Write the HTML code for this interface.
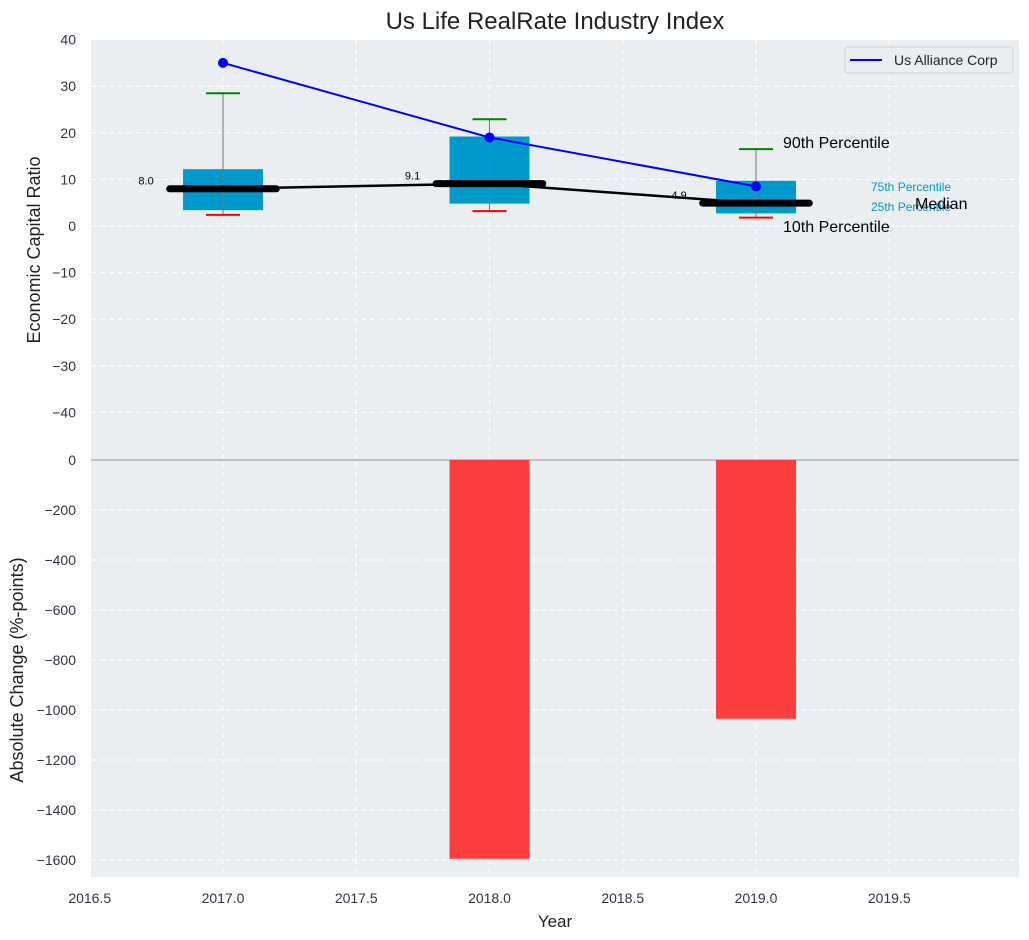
<!DOCTYPE html>
<html><head><meta charset="utf-8">
<style>
html,body{margin:0;padding:0;background:#fff;}
svg{display:block;font-family:"Liberation Sans","DejaVu Sans",sans-serif;}
</style></head>
<body>
<svg id="chart" width="1029" height="940" viewBox="0 0 1029 940" xmlns="http://www.w3.org/2000/svg">
<text x="555" y="29" font-size="24" text-anchor="middle" fill="#222">Us Life RealRate Industry Index</text>
<rect x="91" y="40" width="928" height="419" fill="#eaeef0"/>
<rect x="91" y="459" width="928" height="418" fill="#eaeef0"/>
<g id="grid"></g>
<g id="marks"></g>
<g id="axes"></g>
<text transform="translate(40,250) rotate(-90)" font-size="18" text-anchor="middle" fill="#222">Economic Capital Ratio</text>
<text transform="translate(23,670) rotate(-90)" font-size="18" text-anchor="middle" fill="#222">Absolute Change (%-points)</text>
<text x="555" y="927" font-size="17" text-anchor="middle" fill="#222">Year</text>
<g>
<rect x="845" y="47" width="168" height="26" rx="3" fill="#eaeef0" stroke="#cfd3d6"/>
<line x1="850" y1="60" x2="882" y2="60" stroke="#0000ff" stroke-width="2"/>
<text x="894" y="65" font-size="14" fill="#222">Us Alliance Corp</text>
</g>
<text x="783" y="148" font-size="16" fill="#000">90th Percentile</text>
<text x="783" y="232" font-size="16" fill="#000">10th Percentile</text>
<text x="871" y="191" font-size="12" fill="#0099cc">75th Percentile</text>
<text x="871" y="211" font-size="12" fill="#0099cc">25th Percentile</text>
<text x="915" y="209" font-size="16" fill="#000">Median</text>
</svg>
<script>
const years=[2017,2018,2019];
const p10=[2.4,3.2,1.8];
const p25=[3.4,4.8,2.7];
const p75=[12.2,19.2,9.7];
const p90=[28.5,22.9,16.5];
const median=[8.0,9.1,4.9];
const alliance=[35,19,8.5];
const change=[0,-1595,-1035];
const topTicks=[40,30,20,10,0,-10,-20,-30,-40];
const botTicks=[0,-200,-400,-600,-800,-1000,-1200,-1400,-1600];
const xTicks=[2016.5,2017,2017.5,2018,2018.5,2019,2019.5];

const NS='http://www.w3.org/2000/svg';
const X=v=>223+(v-2017)*266.5;
const YT=v=>226-v*4.66;
const YB=v=>460+v*(-0.25);
function mk(parent,tag,attrs){const e=document.createElementNS(NS,tag);for(const k in attrs)e.setAttribute(k,attrs[k]);document.getElementById(parent).appendChild(e);return e;}
function fmt(v){return v<0?'\u2212'+Math.abs(v):String(v);}

xTicks.forEach(t=>{
  let l=mk('grid','line',{x1:X(t),x2:X(t),y1:40,y2:877,stroke:'#fff','stroke-dasharray':'5,4','stroke-width':1});
  
  
  let tx=mk('axes','text',{x:X(t),y:903,'font-size':14,'text-anchor':'middle',fill:'#334'});
  tx.textContent=t.toFixed(1);
  
  
});
topTicks.forEach(t=>{
  let l=mk('grid','line',{x1:91,x2:1019,y1:YT(t),y2:YT(t),stroke:'#fff','stroke-dasharray':'5,4','stroke-width':1});
  
  
  let tx=mk('axes','text',{x:76,y:YT(t)+5,'font-size':14,'text-anchor':'end',fill:'#334'});
  tx.textContent=fmt(t);
  
  
});
botTicks.forEach(t=>{
  let l=mk('grid','line',{x1:91,x2:1019,y1:YB(t),y2:YB(t),stroke:t===0?'#b0b0b0':'#fff','stroke-dasharray':t===0?'none':'5,4','stroke-width':t===0?1.5:1});
  
  
  let tx=mk('axes','text',{x:76,y:YB(t)+5,'font-size':14,'text-anchor':'end',fill:'#334'});
  tx.textContent=fmt(t);
  
  
});

years.forEach((yr,i)=>{
  const cx=X(yr);
  let b=mk('marks','rect',{x:X(yr-0.15),y:YT(p75[i]),width:X(yr+0.15)-X(yr-0.15),height:YT(p25[i])-YT(p75[i]),fill:'#0099cc'});
  
  
  let w=mk('marks','line',{x1:cx,x2:cx,y1:YT(p90[i]),y2:YT(p10[i]),stroke:'#777','stroke-width':1});
  
  
  let c1=mk('marks','line',{x1:cx-17,x2:cx+17,y1:YT(p90[i]),y2:YT(p90[i]),stroke:'#008000','stroke-width':2});
  
  
  let c2=mk('marks','line',{x1:cx-17,x2:cx+17,y1:YT(p10[i]),y2:YT(p10[i]),stroke:'#ff0000','stroke-width':2});
  
  
  if(change[i]!==0){
    let bar=mk('marks','rect',{x:X(yr-0.15),y:YB(0),width:X(yr+0.15)-X(yr-0.15),height:YB(change[i])-YB(0),fill:'#ff2a2a','fill-opacity':0.9});
    
    
  }
});
let mp=mk('marks','polyline',{points:years.map((y,i)=>X(y)+','+YT(median[i])).join(' '),fill:'none',stroke:'#000','stroke-width':2.5});


years.forEach((yr,i)=>{
  let m=mk('marks','line',{x1:X(yr-0.2),x2:X(yr+0.2),y1:YT(median[i]),y2:YT(median[i]),stroke:'#000','stroke-width':7,'stroke-linecap':'round'});
  
  
  let t=mk('marks','text',{x:X(yr-0.26),y:YT(median[i])-4,'font-size':11,'text-anchor':'end',fill:'#000'});
  t.textContent=median[i].toFixed(1);
  
  
});
let ap=mk('marks','polyline',{points:years.map((y,i)=>X(y)+','+YT(alliance[i])).join(' '),fill:'none',stroke:'#0000ff','stroke-width':2});


years.forEach((yr,i)=>{
  let c=mk('marks','circle',{cx:X(yr),cy:YT(alliance[i]),r:5,fill:'#0000ff'});
  
  
});
</script>
</body></html>
